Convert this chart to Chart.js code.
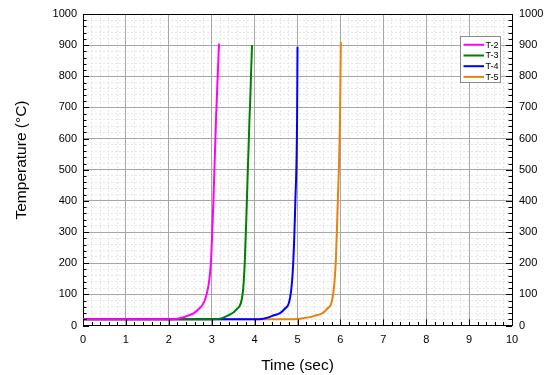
<!DOCTYPE html>
<html>
<head>
<meta charset="utf-8">
<script src="https://cdn.jsdelivr.net/npm/chart.js@4/dist/chart.umd.min.js"></script>
<style>
html,body{margin:0;padding:0;background:#fff;}
#wrap{width:554px;height:375px;position:relative;}
</style>
</head>
<body>
<div id="wrap"><canvas id="c" width="554" height="375"></canvas></div>
<script>
// ---- data ----
const seriesLabels = ['T-2', 'T-3', 'T-4', 'T-5'];
const seriesColors = ['#ff00ff', '#008000', '#0000ff', '#e8820c'];

const t2Time = [0, 1.0, 2.0, 2.2, 2.42, 2.69, 2.88, 2.98, 3.04, 3.10, 3.14, 3.17];
const t2Temp = [20, 20, 20, 22, 30, 52, 100, 200, 400, 660, 800, 905];

const t3Time = [0, 1.5, 3.0, 3.2, 3.35, 3.58, 3.72, 3.77, 3.82, 3.88, 3.90, 3.92, 3.94];
const t3Temp = [20, 20, 20, 22, 30, 52, 100, 200, 400, 660, 730, 820, 900];

const t4Time = [0, 2.0, 4.0, 4.2, 4.40, 4.69, 4.84, 4.90, 4.95, 4.99, 5.00];
const t4Temp = [20, 20, 20, 22, 30, 52, 100, 200, 400, 660, 895];

const t5Time = [0, 2.5, 4.8, 5.05, 5.37, 5.68, 5.83, 5.89, 5.94, 5.99, 6.01];
const t5Temp = [20, 20, 20, 22, 30, 52, 100, 200, 400, 660, 910];

const xTickValues = [0, 1, 2, 3, 4, 5, 6, 7, 8, 9, 10];
const yTickValues = [0, 100, 200, 300, 400, 500, 600, 700, 800, 900, 1000];

const xTitle = 'Time (sec)';
const yTitle = 'Temperature (°C)';

// ---- build ----
const times = [t2Time, t3Time, t4Time, t5Time];
const temps = [t2Temp, t3Temp, t4Temp, t5Temp];
const datasets = seriesLabels.map((lab, i) => ({
  label: lab,
  data: times[i].map((t, j) => ({x: t, y: temps[i][j]})),
  borderColor: seriesColors[i],
  backgroundColor: seriesColors[i],
  borderWidth: 2,
  pointRadius: 0,
  cubicInterpolationMode: 'monotone',
  fill: false,
  xAxisID: 'x',
  yAxisID: 'y'
}));

const FONT = "'Liberation Sans', Arial, sans-serif";
const isMajor = (v, step) => Math.abs(v / step - Math.round(v / step)) < 1e-6;

// inward tick marks drawn along the library's scales
const innerTicks = {
  id: 'innerTicks',
  afterDatasetsDraw(chart){
    const {ctx, chartArea: a, scales} = chart;
    ctx.save();
    ctx.strokeStyle = '#000';
    ctx.lineWidth = 1;
    const ys = scales.y, xs = scales.x;
    for (let v = 0; v <= 1000 + 1e-6; v += 20){
      const p = Math.round(ys.getPixelForValue(v)) + 0.5;
      const len = isMajor(v, 100) ? 6 : 3.5;
      ctx.beginPath();
      ctx.moveTo(a.left, p); ctx.lineTo(a.left + len, p);
      ctx.moveTo(a.right, p); ctx.lineTo(a.right - len, p);
      ctx.stroke();
    }
    for (let k = 0; k <= 50; k++){
      const v = k * 0.2;
      const p = Math.round(xs.getPixelForValue(v)) + 0.5;
      const len = (k % 5 === 0) ? 6 : 3.5;
      ctx.beginPath();
      ctx.moveTo(p, a.bottom); ctx.lineTo(p, a.bottom - len);
      ctx.stroke();
    }
    ctx.restore();
  }
};

// rotated y-axis title placed like the reference
const yTitlePlugin = {
  id: 'yTitlePlugin',
  afterDraw(chart){
    const {ctx} = chart;
    ctx.save();
    ctx.translate(22, 160);
    ctx.rotate(-Math.PI / 2);
    ctx.font = '15.5px ' + FONT;
    ctx.fillStyle = '#000';
    ctx.textAlign = 'center';
    ctx.textBaseline = 'middle';
    ctx.fillText(yTitle, 0, 0);
    ctx.restore();
  }
};

// legend box inside the plot
const boxLegend = {
  id: 'boxLegend',
  afterDraw(chart){
    const {ctx} = chart;
    const ds = chart.data.datasets;
    const left = 460.5, top = 36.5, w = 40, h = 46;
    ctx.save();
    ctx.fillStyle = '#fff';
    ctx.fillRect(left, top, w, h);
    ctx.strokeStyle = '#8c8c8c';
    ctx.lineWidth = 1;
    ctx.strokeRect(left, top, w, h);
    ctx.font = '9px ' + FONT;
    ctx.textBaseline = 'middle';
    ctx.textAlign = 'left';
    ds.forEach((d, i) => {
      const y = top + 8.3 + i * 10.7;
      ctx.strokeStyle = d.borderColor;
      ctx.lineWidth = 2;
      ctx.beginPath();
      ctx.moveTo(left + 3, y); ctx.lineTo(left + 23.5, y);
      ctx.stroke();
      ctx.fillStyle = '#000';
      ctx.fillText(d.label, left + 25, y + 0.5);
    });
    ctx.restore();
  }
};

const minorGrid = {color: '#e6e6e6', lineWidth: 1, drawTicks: false};

new Chart(document.getElementById('c'), {
  type: 'line',
  data: {datasets},
  options: {
    responsive: false,
    animation: false,
    events: [],
    layout: {padding: {left: 0, right: 0, top: 0, bottom: 0}},
    plugins: {legend: {display: false}, tooltip: {enabled: false}},
    scales: {
      xMinor: {
        type: 'linear', position: 'bottom', min: 0, max: 10, z: -1,
        afterBuildTicks: s => { s.ticks = []; for (let k = 0; k <= 50; k++) s.ticks.push({value: +(k * 0.2).toFixed(1)}); },
        ticks: {display: false, autoSkip: false},
        grid: minorGrid,
        border: {display: false, dash: [2, 2]},
        afterFit: s => { s.height = 0; }
      },
      yMinor: {
        type: 'linear', position: 'left', min: 0, max: 1000, z: -1,
        afterBuildTicks: s => { s.ticks = []; for (let v = 0; v <= 1000; v += 20) s.ticks.push({value: v}); },
        ticks: {display: false, autoSkip: false},
        grid: minorGrid,
        border: {display: false, dash: [2, 2]},
        afterFit: s => { s.width = 0; }
      },
      x: {
        type: 'linear', position: 'bottom', min: 0, max: 10,
        afterBuildTicks: s => { s.ticks = xTickValues.map(v => ({value: v})); },
        ticks: {
          autoSkip: false, maxRotation: 0, padding: 8,
          color: '#000', font: {family: FONT, size: 11},
          callback: v => String(v)
        },
        grid: {color: '#a6a6a6', lineWidth: 1, drawTicks: false},
        border: {display: true, color: '#000', width: 1},
        title: {display: true, text: xTitle, color: '#000', font: {family: FONT, size: 15.5}, padding: {top: 2, bottom: 0}},
        afterFit: s => { s.height = 49.5; }
      },
      xTop: {
        type: 'linear', position: 'top', min: 0, max: 10,
        ticks: {display: false},
        grid: {display: false, drawTicks: false},
        border: {display: true, color: '#000', width: 1},
        afterFit: s => { s.height = 14; }
      },
      y: {
        type: 'linear', position: 'left', min: 0, max: 1000,
        afterBuildTicks: s => { s.ticks = yTickValues.map(v => ({value: v})); },
        ticks: {
          autoSkip: false, padding: 6,
          color: '#000', font: {family: FONT, size: 11},
          callback: v => String(v)
        },
        grid: {color: '#a6a6a6', lineWidth: 1, drawTicks: false},
        border: {display: true, color: '#000', width: 1},
        title: {display: false},
        afterFit: s => { s.width = 83; }
      },
      yRight: {
        type: 'linear', position: 'right', min: 0, max: 1000,
        afterBuildTicks: s => { s.ticks = yTickValues.map(v => ({value: v})); },
        ticks: {
          autoSkip: false, padding: 7,
          color: '#000', font: {family: FONT, size: 11},
          callback: v => String(v)
        },
        grid: {display: false, drawTicks: false},
        border: {display: true, color: '#000', width: 1},
        afterFit: s => { s.width = 42; }
      }
    }
  },
  plugins: [innerTicks, boxLegend, yTitlePlugin]
});
</script>
</body>
</html>
